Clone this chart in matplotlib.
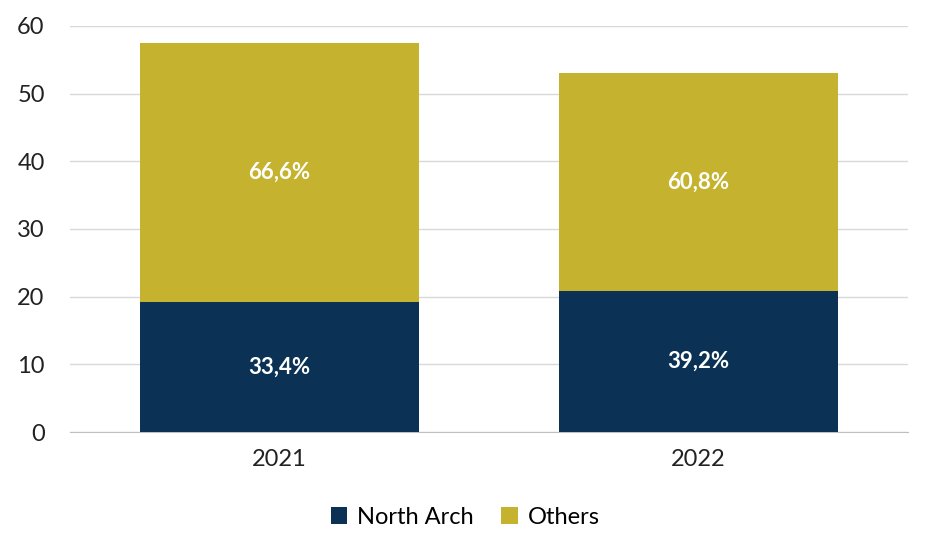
import matplotlib.pyplot as plt
import numpy as np

plt.rcParams['font.family'] = ['Lato', 'DejaVu Sans']

years = ['2021', '2022']
north_arch = [19.2, 20.8]
others = [38.3, 32.2]
north_pct = ['33,4%', '39,2%']
others_pct = ['66,6%', '60,8%']

navy = '#0B3254'
gold = '#C5B22E'

fig = plt.figure(figsize=(9.3, 5.49), dpi=100)
ax = fig.add_axes([0.075, 0.213, 0.901, 0.74])

x = np.arange(len(years))
b1 = ax.bar(x, north_arch, width=0.666, color=navy, label='North Arch', zorder=3)
b2 = ax.bar(x, others, width=0.666, bottom=north_arch, color=gold, label='Others', zorder=3)

for i in range(len(years)):
    ax.text(x[i], north_arch[i] / 2, north_pct[i], ha='center', va='center',
            color='white', fontsize=16, fontweight='bold', zorder=4)
    ax.text(x[i], north_arch[i] + others[i] / 2, others_pct[i], ha='center', va='center',
            color='white', fontsize=16, fontweight='bold', zorder=4)

ax.set_xlim(-0.5, 1.5)
ax.set_ylim(0, 60)
ax.set_yticks(range(0, 61, 10))
ax.set_xticks(x)
ax.set_xticklabels(years)
ax.tick_params(axis='both', length=0, labelsize=17, colors='#222222')
ax.tick_params(axis='x', pad=12)
ax.tick_params(axis='y', pad=18)
ax.grid(axis='y', color='#D9D9D9', linewidth=1, zorder=0)
for s in ['top', 'right', 'left']:
    ax.spines[s].set_visible(False)
ax.spines['bottom'].set_color('#BFBFBF')

fig.legend(handles=[b1, b2], loc='lower center', bbox_to_anchor=(0.5, 0.0), ncol=2,
           frameon=False, fontsize=17, handlelength=0.7, handleheight=0.7,
           columnspacing=1.2, handletextpad=0.4)

fig.savefig('out.png', dpi=100)
